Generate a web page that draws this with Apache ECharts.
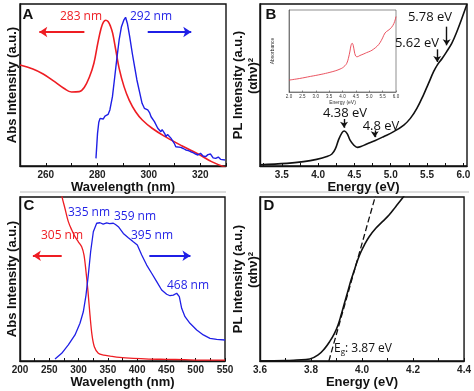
<!DOCTYPE html>
<html><head><meta charset="utf-8">
<script src="https://cdn.jsdelivr.net/npm/echarts@6/dist/echarts.min.js"></script>
<style>html,body{margin:0;padding:0;background:#fff}#c{width:474px;height:391px}</style>
</head><body><div id="c"></div>
<script>
// ---------- Panel A ----------
const aAbsX = [250, 255, 259, 263, 267, 270, 273, 275, 277, 278.7, 280.2, 281.5, 282.4, 283.3, 284.2, 285.2, 286, 287.2, 288.5, 290.4, 292.4, 294.9, 297.5, 301.3, 306.4, 312.8, 319.2, 324.4, 330];
const aAbsY = [0.623, 0.599, 0.568, 0.525, 0.48, 0.457, 0.459, 0.486, 0.551, 0.634, 0.757, 0.85, 0.888, 0.90, 0.892, 0.86, 0.819, 0.716, 0.603, 0.49, 0.407, 0.335, 0.284, 0.233, 0.181, 0.125, 0.074, 0.027, -0.01];
const aPlX = [279.5, 280.1, 280.6, 281.1, 281.7, 282.3, 283.0, 283.6, 284.2, 284.9, 285.9, 286.8, 287.7, 288.5, 289.4, 290.3, 291.0, 291.7, 292.6, 293.6, 294.5, 295.4, 296.4, 297.4, 298.3, 299.0, 299.6, 300.3, 300.9, 301.6, 302.2, 302.9, 303.5, 304.1, 304.7, 305.2, 305.6, 306.2, 306.7, 307.3, 307.9, 308.6, 309.2, 309.9, 310.5, 311.2, 312.4, 313.4, 314.4, 315.4, 316.3, 317.2, 318.2, 319.1, 320.1, 321.1, 322.1, 323.0, 324.0, 325.0, 326.0, 327.0, 327.9, 329.6];
const aPlY = [0.047, 0.2, 0.27, 0.294, 0.304, 0.29, 0.308, 0.298, 0.318, 0.346, 0.428, 0.551, 0.675, 0.778, 0.86, 0.9, 0.918, 0.88, 0.798, 0.696, 0.613, 0.531, 0.459, 0.387, 0.356, 0.36, 0.346, 0.33, 0.304, 0.31, 0.274, 0.268, 0.233, 0.24, 0.212, 0.225, 0.233, 0.2, 0.181, 0.195, 0.191, 0.172, 0.16, 0.14, 0.119, 0.125, 0.115, 0.108, 0.099, 0.095, 0.088, 0.082, 0.074, 0.068, 0.078, 0.062, 0.058, 0.07, 0.074, 0.05, 0.047, 0.055, 0.041, 0.037];

// ---------- Panel B ----------
const bX = [3.2, 3.57, 3.80, 3.98, 4.12, 4.19, 4.24, 4.28, 4.33, 4.36, 4.40, 4.44, 4.49, 4.54, 4.59, 4.67, 4.78, 4.90, 5.04, 5.18, 5.27, 5.36, 5.45, 5.52, 5.59, 5.64, 5.71, 5.77, 5.84, 5.91, 5.98, 6.05];
const bY = [0.008, 0.016, 0.027, 0.041, 0.058, 0.074, 0.109, 0.16, 0.206, 0.216, 0.2, 0.16, 0.13, 0.115, 0.12, 0.136, 0.156, 0.181, 0.212, 0.253, 0.294, 0.356, 0.438, 0.51, 0.582, 0.623, 0.665, 0.706, 0.757, 0.829, 0.912, 1.0];
const inX = [2.0, 2.4, 2.8, 3.2, 3.53, 3.75, 3.91, 4.0, 4.09, 4.16, 4.22, 4.28, 4.32, 4.36, 4.40, 4.44, 4.49, 4.55, 4.65, 4.8, 4.9, 5.05, 5.15, 5.3, 5.4, 5.5, 5.59, 5.7, 5.78, 5.88, 5.95, 6.0];
const inY = [0.145, 0.165, 0.19, 0.215, 0.24, 0.26, 0.28, 0.295, 0.32, 0.35, 0.41, 0.5, 0.57, 0.594, 0.57, 0.5, 0.44, 0.43, 0.445, 0.465, 0.48, 0.5, 0.52, 0.56, 0.6, 0.66, 0.72, 0.75, 0.77, 0.81, 0.86, 0.92];
const bLabels = [3.5, 4.0, 4.5, 5.0, 5.5, 6.0];
const bTicks = [3.25, 3.5, 3.75, 4.0, 4.25, 4.5, 4.75, 5.0, 5.25, 5.5, 5.75, 6.0];

// ---------- Panel C ----------
const cAbsX = [268, 271.1, 276.8, 282.5, 288.2, 293.9, 299.6, 305.3, 309.3, 312.7, 316.1, 319.5, 322.9, 326.9, 333.7, 343, 353.7, 370, 393.4, 420, 450.4, 480, 507.3, 550];
const cAbsY = [1.1, 1.012, 0.93, 0.85, 0.8, 0.758, 0.727, 0.697, 0.646, 0.545, 0.423, 0.28, 0.159, 0.087, 0.047, 0.036, 0.03, 0.022, 0.016, 0.012, 0.01, 0.008, 0.005, 0.005];
const cPlX = [259.8, 271.2, 282.5, 293.9, 302.4, 308.1, 312.7, 316.6, 320.6, 325.2, 330.9, 336.6, 342, 348, 353, 359.3, 363, 367.9, 376.4, 384.9, 393.4, 400.3, 407.8, 416.3, 424.8, 433.4, 441.9, 450.4, 456.1, 461.8, 467.5, 472, 476, 481.7, 490.2, 501.7, 513, 524.4, 535.8, 550];
const cPlY = [0.012, 0.047, 0.098, 0.159, 0.23, 0.3, 0.402, 0.524, 0.666, 0.788, 0.84, 0.843, 0.835, 0.842, 0.838, 0.84, 0.832, 0.819, 0.778, 0.752, 0.727, 0.707, 0.646, 0.585, 0.535, 0.484, 0.433, 0.407, 0.398, 0.402, 0.413, 0.392, 0.321, 0.27, 0.23, 0.189, 0.159, 0.138, 0.132, 0.128];

// ---------- Panel D ----------
const dX = [3.6, 3.7, 3.744, 3.795, 3.828, 3.854, 3.873, 3.892, 3.906, 3.918, 3.931, 3.944, 3.957, 3.970, 3.983, 3.996, 4.009, 4.028, 4.054, 4.08, 4.106, 4.132, 4.158, 4.17];
const dY = [0, 0.002, 0.006, 0.012, 0.037, 0.077, 0.118, 0.169, 0.22, 0.28, 0.352, 0.423, 0.494, 0.555, 0.616, 0.666, 0.707, 0.758, 0.809, 0.85, 0.89, 0.941, 0.992, 1.02];
const dFitX = [3.87, 4.055];
const dFitY = [0, 1.02];

const zip = (xs, ys) => xs.map((x, i) => [x, ys[i]]);
const RED = '#ee1d23', BLUE = '#1f1fe6', BLACK = '#111';
const AX = 'Liberation Sans, Arial, sans-serif';
const AN = 'Open Sans, sans-serif';

function mainX(gi, min, max, extra) {
  return Object.assign({
    type: 'value', gridIndex: gi, min: min, max: max,
    name: extra.name, nameLocation: 'middle', nameGap: 13,
    nameTextStyle: { fontFamily: AX, fontWeight: 'bold', fontSize: 13, color: BLACK },
    axisLine: { show: true, onZero: false, lineStyle: { color: BLACK, width: 1.4 } },
    axisTick: { show: true, inside: true, length: 3, lineStyle: { color: BLACK } },
    splitLine: { show: false },
  }, extra.axis);
}
function mainY(gi, min, max) {
  return { type: 'value', gridIndex: gi, min: min, max: max, show: true,
    axisLine: { show: true, lineStyle: { color: BLACK, width: 1.4 } },
    axisTick: { show: false }, axisLabel: { show: false }, splitLine: { show: false } };
}
const lblStyle = { fontFamily: AX, fontWeight: 'bold', fontSize: 10, color: '#222', margin: 4 };

function arrow(color, x1, y1, x2, y2, size, width) {
  return { silent: true, symbol: ['none', 'arrow'], symbolSize: size, animation: false,
    lineStyle: { color: color, width: width, type: 'solid' }, label: { show: false },
    emphasis: { disabled: true },
    data: [[{ coord: [x1, y1] }, { coord: [x2, y2] }]] };
}

const gridBase = { show: true, borderColor: BLACK, borderWidth: 1.4, backgroundColor: 'transparent' };
const option = {
  animation: false,
  grid: [
    Object.assign({ left: 20, top: 4, width: 206, height: 162 }, gridBase),
    Object.assign({ left: 260, top: 4, width: 207, height: 162 }, gridBase),
    { show: true, left: 289, top: 10, width: 107, height: 82, borderColor: '#444', borderWidth: 0.6, backgroundColor: '#fff' },
    Object.assign({ left: 20, top: 197, width: 205, height: 164 }, gridBase),
    Object.assign({ left: 260, top: 197, width: 206, height: 164 }, gridBase),
  ],
  xAxis: [
    mainX(0, 250, 330, { name: 'Wavelength (nm)', axis: { interval: 10,
      axisLabel: Object.assign({ formatter: v => (v % 20 === 0 && v > 250 && v < 330) ? String(v) : '' }, lblStyle) } }),
    mainX(1, 3.2, 6.05, { name: 'Energy (eV)', axis: {
      axisLabel: Object.assign({ customValues: bLabels, formatter: v => v.toFixed(1) }, lblStyle),
      axisTick: { show: true, inside: true, length: 3, customValues: bTicks, lineStyle: { color: BLACK } } } }),
    { type: 'value', gridIndex: 2, min: 2, max: 6, interval: 0.5, name: 'Energy (eV)', nameLocation: 'middle', nameGap: 7,
      nameTextStyle: { fontFamily: AX, fontSize: 5, color: '#333' },
      axisLine: { show: true, onZero: false, lineStyle: { color: '#444', width: 0.6 } },
      axisTick: { show: true, inside: true, length: 1.5, lineStyle: { color: '#444', width: 0.6 } },
      axisLabel: { fontFamily: AX, fontSize: 4.5, color: '#333', margin: 2, formatter: v => v.toFixed(1) },
      splitLine: { show: false } },
    mainX(3, 200, 550, { name: 'Wavelength (nm)', axis: { interval: 25,
      axisLabel: Object.assign({ formatter: v => v % 50 === 0 ? String(v) : '' }, lblStyle) } }),
    mainX(4, 3.6, 4.4, { name: 'Energy (eV)', axis: { interval: 0.1,
      axisLabel: Object.assign({ formatter: v => Math.round(v * 10) % 2 === 0 ? v.toFixed(1) : '' }, lblStyle) } }),
  ],
  yAxis: [
    mainY(0, 0, 1), mainY(1, 0, 1),
    { type: 'value', gridIndex: 2, min: 0, max: 1, name: 'Absorbance', nameLocation: 'middle', nameGap: 14, nameRotate: 90,
      nameTextStyle: { fontFamily: AX, fontSize: 5, color: '#333' },
      axisLine: { show: true, lineStyle: { color: '#444', width: 0.6 } }, axisTick: { show: false },
      axisLabel: { show: false }, splitLine: { show: false } },
    mainY(3, 0, 1), mainY(4, 0, 1),
  ],
  series: [
    { type: 'line', xAxisIndex: 0, yAxisIndex: 0, data: zip(aAbsX, aAbsY), showSymbol: false, smooth: 0.4,
      lineStyle: { color: RED, width: 1.6 }, itemStyle: { color: RED }, clip: true,
      markLine: arrow(RED, 275, 0.827, 257.5, 0.827, 8, 2) },
    { type: 'line', xAxisIndex: 0, yAxisIndex: 0, data: zip(aPlX, aPlY), showSymbol: false,
      lineStyle: { color: BLUE, width: 1.4 }, itemStyle: { color: BLUE }, clip: true,
      markLine: arrow(BLUE, 299.6, 0.827, 316.5, 0.827, 8, 2) },
    { type: 'line', xAxisIndex: 1, yAxisIndex: 1, data: zip(bX, bY), showSymbol: false, smooth: 0.4,
      lineStyle: { color: BLACK, width: 1.6 }, itemStyle: { color: BLACK }, clip: true,
      markLine: { silent: true, symbol: ['none', 'arrow'], symbolSize: 6, lineStyle: { color: BLACK, width: 1.4, type: 'solid' },
        label: { show: false }, emphasis: { disabled: true },
        data: [
          [{ coord: [4.357, 0.29] }, { coord: [4.357, 0.236] }],
          [{ coord: [4.78, 0.22] }, { coord: [4.78, 0.178] }],
          [{ coord: [5.64, 0.72] }, { coord: [5.64, 0.642] }],
          [{ coord: [5.77, 0.86] }, { coord: [5.77, 0.745] }],
        ] } },
    { type: 'line', xAxisIndex: 2, yAxisIndex: 2, data: zip(inX, inY), showSymbol: false, smooth: 0.4,
      lineStyle: { color: '#e8414f', width: 0.9 }, itemStyle: { color: '#e8414f' } },
    { type: 'line', xAxisIndex: 3, yAxisIndex: 3, data: zip(cAbsX, cAbsY), showSymbol: false, smooth: 0.3,
      lineStyle: { color: RED, width: 1.3 }, itemStyle: { color: RED }, clip: true,
      markLine: arrow(RED, 271.2, 0.642, 222, 0.642, 8, 2) },
    { type: 'line', xAxisIndex: 3, yAxisIndex: 3, data: zip(cPlX, cPlY), showSymbol: false,
      lineStyle: { color: BLUE, width: 1.3 }, itemStyle: { color: BLUE }, clip: true,
      markLine: arrow(BLUE, 420.8, 0.642, 491, 0.642, 8, 2) },
    { type: 'line', xAxisIndex: 4, yAxisIndex: 4, data: zip(dX, dY), showSymbol: false, smooth: 0.4,
      lineStyle: { color: BLACK, width: 1.6 }, itemStyle: { color: BLACK }, clip: true },
    { type: 'line', xAxisIndex: 4, yAxisIndex: 4, data: zip(dFitX, dFitY), showSymbol: false,
      lineStyle: { color: BLACK, width: 1.3, type: [6, 3] }, itemStyle: { color: BLACK }, clip: true },
  ],
  graphic: [
    { type: 'line', shape: { x1: 20, y1: 192, x2: 226, y2: 192 }, style: { stroke: '#bbb', lineWidth: 1 }, silent: true },
    { type: 'line', shape: { x1: 260, y1: 192, x2: 469, y2: 192 }, style: { stroke: '#bbb', lineWidth: 1 }, silent: true },
  ]
};

function txt(text, x, y, font, fill, rot) {
  return { type: 'text', x: x, y: y, rotation: rot || 0, silent: true, z: 100,
    style: { text: text, x: 0, y: 0, font: font, fill: fill, align: 'center', verticalAlign: 'middle', textAlign: 'center', textVerticalAlign: 'middle' } };
}
const fLetter = 'bold 15px ' + AX;
const fTitle = 'bold 13px ' + AX;
const fAnn = '12px ' + AN;
option.graphic.push(
  txt('A', 28, 15, fLetter, BLACK), txt('B', 271, 15, fLetter, BLACK),
  txt('C', 29, 206, fLetter, BLACK), txt('D', 269, 206, fLetter, BLACK),
  txt('Abs Intensity (a.u.)', 12, 85, fTitle, BLACK, Math.PI / 2),
  txt('Abs Intensity (a.u.)', 12, 279, fTitle, BLACK, Math.PI / 2),
  txt('PL Intensity (a.u.)', 238, 85, fTitle, BLACK, Math.PI / 2),
  txt('(αhν)²', 253, 76, fTitle, BLACK, Math.PI / 2),
  txt('PL Intensity (a.u.)', 238, 279, fTitle, BLACK, Math.PI / 2),
  txt('(αhν)²', 253, 270, fTitle, BLACK, Math.PI / 2),
  txt('283 nm', 81, 17, fAnn, RED), txt('292 nm', 151, 17, fAnn, BLUE),
  txt('4.38 eV', 345, 113, '13px ' + AN, BLACK), txt('4.8 eV', 381, 126, '13px ' + AN, BLACK),
  txt('5.62 eV', 417, 43, '13px ' + AN, BLACK), txt('5.78 eV', 430, 17, '13px ' + AN, BLACK),
  txt('335 nm', 89, 213, fAnn, BLUE), txt('359 nm', 135, 217, fAnn, BLUE),
  txt('305 nm', 62, 236, fAnn, RED), txt('395 nm', 152, 236, fAnn, BLUE),
  txt('468 nm', 188, 286, fAnn, BLUE),
  { type: 'text', x: 363, y: 349, silent: true, z: 100,
    style: { text: '{a|E}{b|g}{a|: 3.87 eV}', x: 0, y: 0, align: 'center', verticalAlign: 'middle', textAlign: 'center', textVerticalAlign: 'middle',
      rich: { a: { fontFamily: AN, fontSize: 12, fill: BLACK, color: BLACK }, b: { fontFamily: AN, fontSize: 8, fill: BLACK, color: BLACK, padding: [6, 0, 0, 0] } } } }
);

const chart = echarts.init(document.getElementById('c'), null, { renderer: 'canvas' });
chart.setOption(option);
</script></body></html>
